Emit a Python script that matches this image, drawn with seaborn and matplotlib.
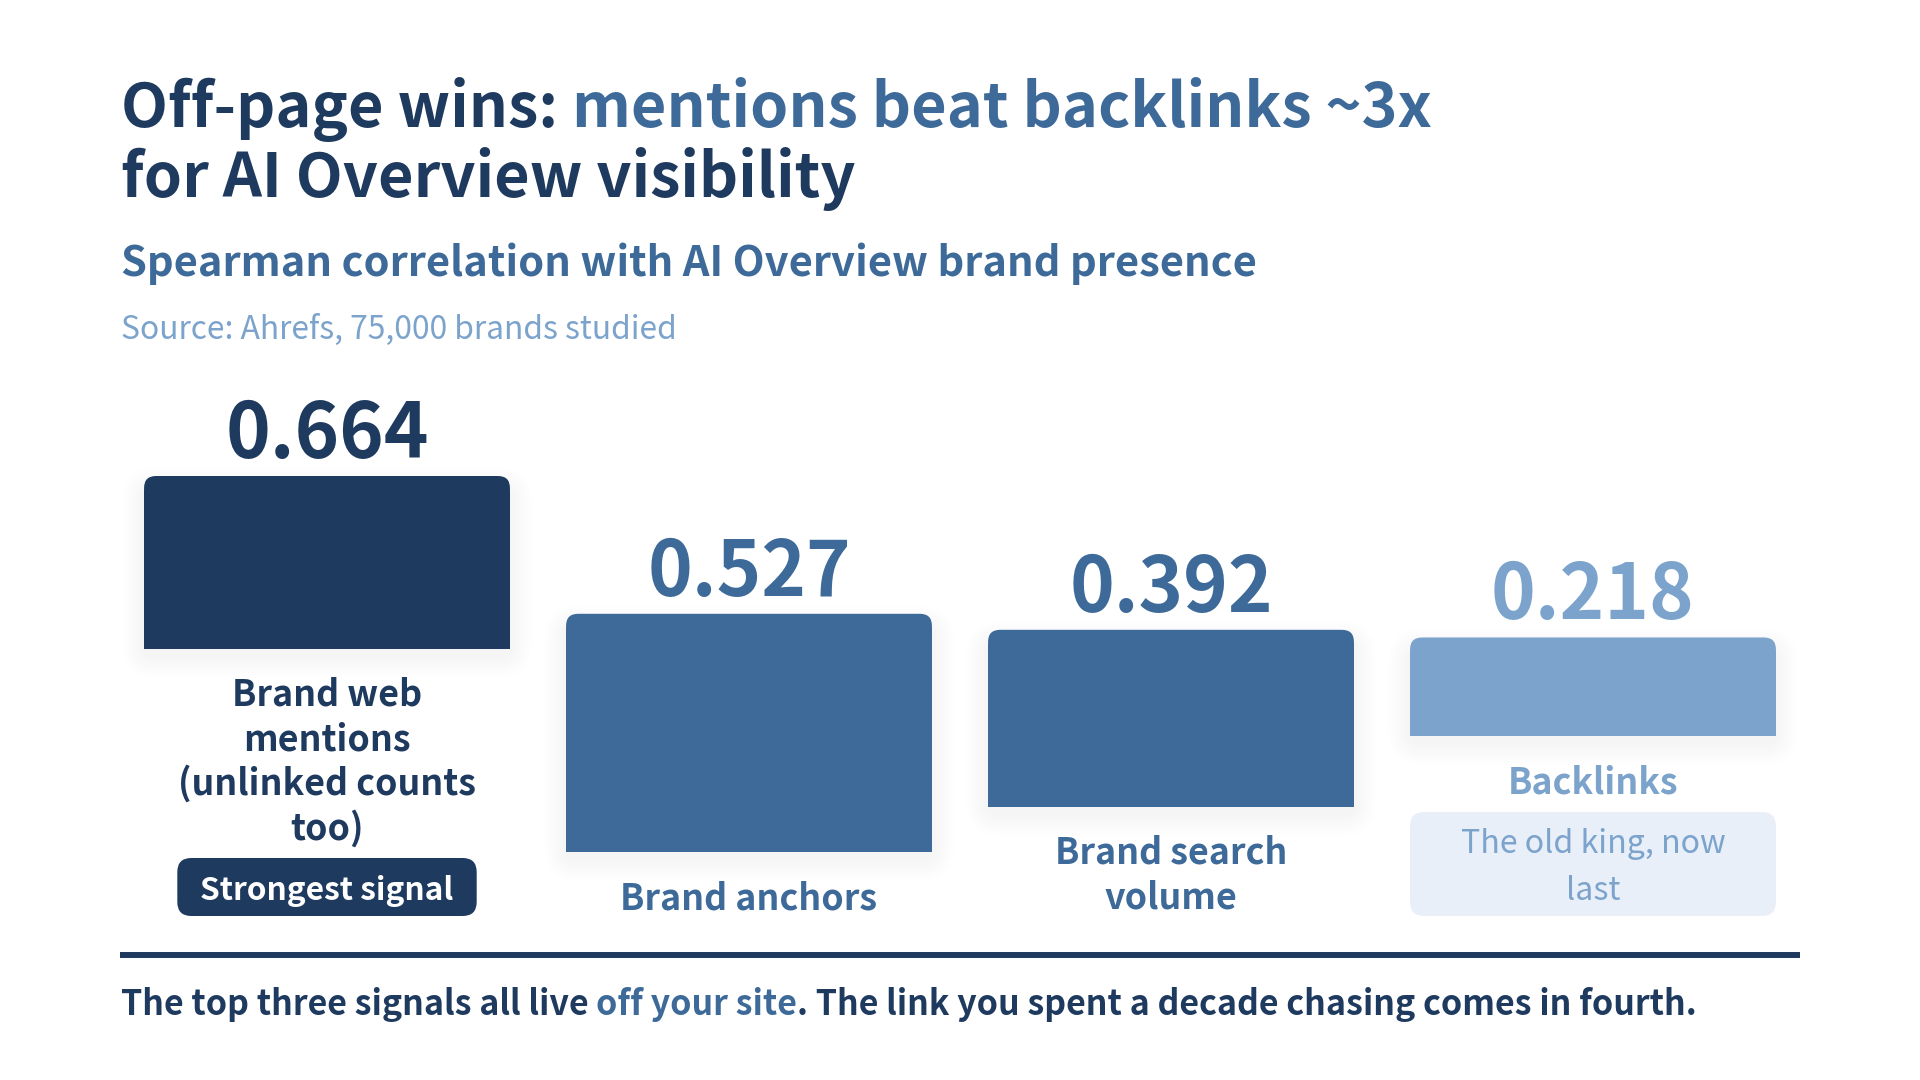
import matplotlib
matplotlib.use("Agg")
import matplotlib.pyplot as plt
import seaborn as sns
import pandas as pd
from matplotlib.patches import FancyBboxPatch, Rectangle

# ---------------- data ----------------
categories = ["Brand web mentions (unlinked counts too)", "Brand anchors",
              "Brand search volume", "Backlinks"]
label_lines = [["Brand web", "mentions", "(unlinked counts", "too)"],
               ["Brand anchors"],
               ["Brand search", "volume"],
               ["Backlinks"]]
values = [0.664, 0.527, 0.392, 0.218]
value_labels = ["0.664", "0.527", "0.392", "0.218"]
badge_text = "Strongest signal"
note_lines = ["The old king, now", "last"]
title_line1 = [("Off-page wins:", "navy"), ("mentions beat backlinks ~3x", "mid")]
title_line2 = "for AI Overview visibility"
subtitle = "Spearman correlation with AI Overview brand presence"
source = "Source: Ahrefs, 75,000 brands studied"
footer = [("The top three signals all live", "navy"), ("off your site", "mid"),
          (". The link you spent a decade chasing comes in fourth.", "navy")]

# ---------------- style ----------------
NAVY = "#1F3A5F"
MID = "#3D6A99"
LIGHT = "#7BA3CB"
NOTE_BG = "#E8EFF8"
CMAP = {"navy": NAVY, "mid": MID, "light": LIGHT}
bar_colors = [NAVY, MID, MID, LIGHT]

sns.set_theme(style="white")
plt.rcParams["font.family"] = ["Noto Sans CJK SC", "DejaVu Sans"]

W, H = 1920, 1080
fig = plt.figure(figsize=(19.2, 10.8), dpi=100)
fig.patch.set_facecolor("white")

# layout (pixels from the top-left)
CENTER0, STEP = 327, 422          # first column centre and column spacing
BAR_W = 0.867                      # bar width as a share of column spacing
PX_PER_UNIT = 452                  # bar height per unit of correlation
BAR_TOP_LIMIT = 476                # highest a bar may reach
bar_bottom_px = [649, 852, 807, 736]
RADIUS = 12

# ---------------- bars via seaborn ----------------
ax = fig.add_axes([0, 0, 1, 1])
heights = [min(v * PX_PER_UNIT, b - BAR_TOP_LIMIT) for v, b in zip(values, bar_bottom_px)]
df = pd.DataFrame({"signal": categories, "height": heights})
sns.barplot(data=df, x="signal", y="height", hue="signal", hue_order=categories,
            order=categories, palette=bar_colors, saturation=1, width=BAR_W,
            legend=False, ax=ax)
ax.set_xlim(-CENTER0 / STEP, (W - CENTER0) / STEP)
ax.set_ylim(0, H)
ax.axis("off")

patches = sorted(list(ax.patches), key=lambda p: p.get_x())
geo = []
for i, p in enumerate(patches):
    x0, w, h = p.get_x(), p.get_width(), p.get_height()
    col = p.get_facecolor()
    p.remove()
    y0 = H - bar_bottom_px[i]
    # soft shadow
    for k in range(10):
        g = 2 + k * 2.2
        sh = FancyBboxPatch((x0 - g / STEP, y0 - 7 - g), w + 2 * g / STEP, h + 2 * g - 6,
                            boxstyle=f"round,pad=0,rounding_size={(RADIUS + g) / STEP}",
                            mutation_aspect=STEP, facecolor=NAVY, edgecolor="none",
                            alpha=0.0055, zorder=1)
        ax.add_patch(sh)
    ax.add_patch(FancyBboxPatch((x0, y0), w, h,
                                boxstyle=f"round,pad=0,rounding_size={RADIUS / STEP}",
                                mutation_aspect=STEP, facecolor=col, edgecolor="none",
                                zorder=3))
    ax.add_patch(Rectangle((x0, y0), w, h - RADIUS - 2, facecolor=col,
                           edgecolor="none", zorder=3))
    cx = ax.transData.transform((x0 + w / 2, 0))[0]
    left = ax.transData.transform((x0, 0))[0]
    right = ax.transData.transform((x0 + w, 0))[0]
    geo.append((cx, left, right, H - (y0 + h), bar_bottom_px[i]))

# ---------------- text overlay (pixel coordinates) ----------------
tx = fig.add_axes([0, 0, 1, 1], facecolor="none")
tx.set_xlim(0, W)
tx.set_ylim(H, 0)
tx.axis("off")
renderer = fig.canvas.get_renderer()


def width_of(s, size, weight):
    t = tx.text(0, 0, s, fontsize=size, fontweight=weight)
    wd = t.get_window_extent(renderer=renderer).width
    t.remove()
    return wd


def rich(x, y, parts, size, weight):
    sp = width_of("n n", size, weight) - width_of("nn", size, weight)
    for j, (s, c) in enumerate(parts):
        t = tx.text(x, y, s, fontsize=size, fontweight=weight, color=CMAP[c],
                    ha="left", va="baseline")
        x = t.get_window_extent(renderer=renderer).x1
        if j + 1 < len(parts) and not parts[j + 1][0].startswith((".", ",")):
            x += sp


# titles
LEFT = 121
rich(LEFT, 127, title_line1, 44.0, "bold")
tx.text(LEFT, 197, title_line2, fontsize=44.0, fontweight="bold", color=NAVY,
        ha="left", va="baseline")
tx.text(LEFT, 276, subtitle, fontsize=30.0, fontweight="bold", color=MID,
        ha="left", va="baseline")
tx.text(LEFT, 339, source, fontsize=22.85, fontweight="normal", color=LIGHT,
        ha="left", va="baseline")

# value labels, category labels, extras
text_colors = [NAVY, MID, MID, LIGHT]
LINE = 44.5
for i, (cx, left, right, top_px, bot_px) in enumerate(geo):
    tx.text(cx, top_px - 18, value_labels[i], fontsize=54.6, fontweight="bold",
            color=text_colors[i], ha="center", va="baseline", zorder=5)
    y = bot_px + 57
    for ln in label_lines[i]:
        tx.text(cx, y, ln, fontsize=25.8, fontweight="bold", color=text_colors[i],
                ha="center", va="baseline", zorder=5)
        y += LINE
    if i == 0:
        bw = width_of(badge_text, 22.8, "bold") + 46
        tx.add_patch(FancyBboxPatch((cx - bw / 2, 858), bw, 58,
                                    boxstyle="round,pad=0,rounding_size=14",
                                    facecolor=NAVY, edgecolor="none", zorder=4))
        tx.text(cx, 900, badge_text, fontsize=22.8, fontweight="bold", color="white",
                ha="center", va="baseline", zorder=5)
    if i == 3:
        tx.add_patch(FancyBboxPatch((left, 812), right - left, 104,
                                    boxstyle="round,pad=0,rounding_size=14",
                                    facecolor=NOTE_BG, edgecolor="none", zorder=4))
        for k, ln in enumerate(note_lines):
            tx.text(cx, 853 + k * 47, ln, fontsize=23.1, fontweight="normal",
                    color=LIGHT, ha="center", va="baseline", zorder=5)

# rule and footer
tx.plot([120, 1800], [955, 955], color=NAVY, lw=4.3, solid_capstyle="butt")
rich(LEFT, 1015, footer, 24.5, "bold")

fig.savefig("out.png", dpi=100, facecolor="white")
